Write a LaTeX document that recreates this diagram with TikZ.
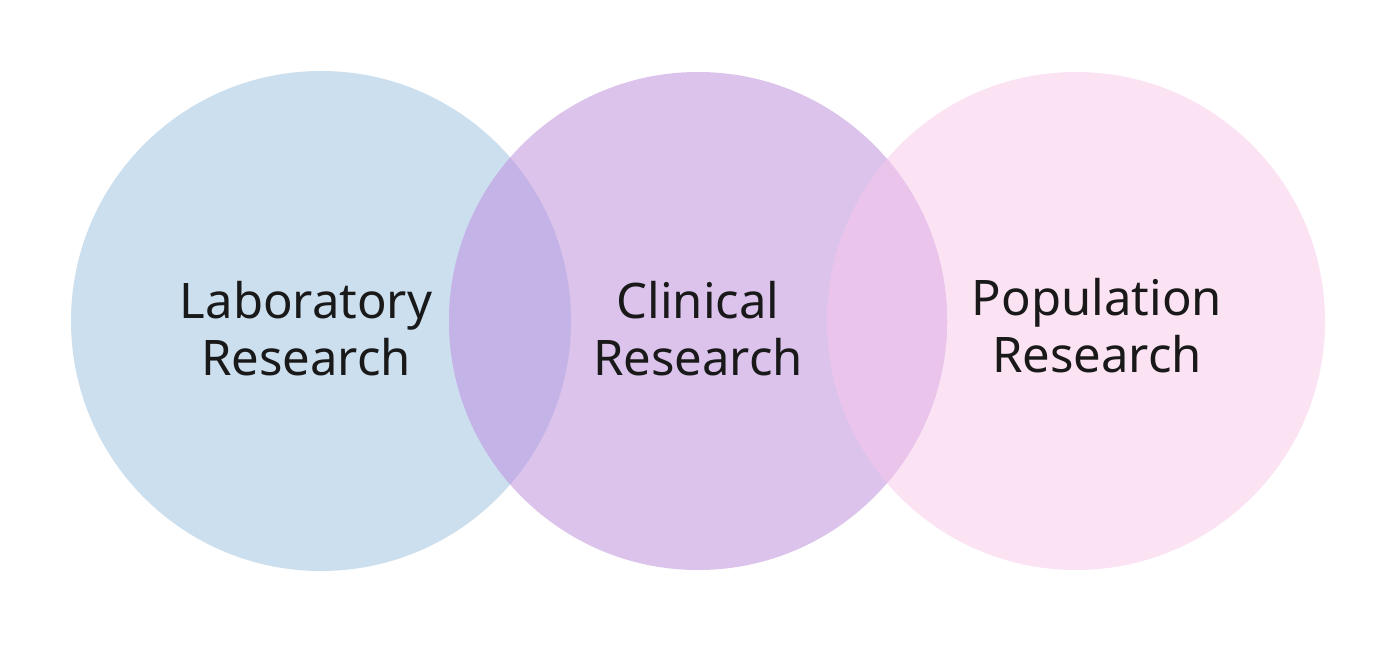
\documentclass[tikz,border=0pt]{standalone}
\usepackage{fontspec}
\setmainfont{Noto Sans}
\definecolor{labc}{HTML}{CCDFEF}
\definecolor{clic}{HTML}{DBC3EB}
\definecolor{popc}{HTML}{FCE3F4}
\definecolor{lcov}{HTML}{C3B3E6}
\definecolor{cpov}{HTML}{EBC4EC}
\begin{document}
\begin{tikzpicture}[x=0.5pt,y=-0.5pt,
  lbl/.style={align=center,font=\fontsize{24.5}{28.5}\selectfont,text=black!90,inner sep=0pt}]
\useasboundingbox (0,0) rectangle (1379,647);
\fill[white] (0,0) rectangle (1379,647);
\coordinate (cl) at (321,321);
\coordinate (cm) at (698,321);
\coordinate (cr) at (1076,321);
\fill[labc] (cl) circle[radius=250];
\fill[popc] (cr) circle[radius=249];
\fill[clic] (cm) circle[radius=249];
\begin{scope}
  \clip (cl) circle[radius=250];
  \fill[lcov] (cm) circle[radius=249];
\end{scope}
\begin{scope}
  \clip (cr) circle[radius=249];
  \fill[cpov] (cm) circle[radius=249];
\end{scope}
\node[lbl] (lab) at (306,329) {Laboratory\\Research};
\node[lbl] (cli) at (698,329) {Clinical\\Research};
\node[lbl] (pop) at (1097,326) {Population\\Research};
\end{tikzpicture}
\end{document}
